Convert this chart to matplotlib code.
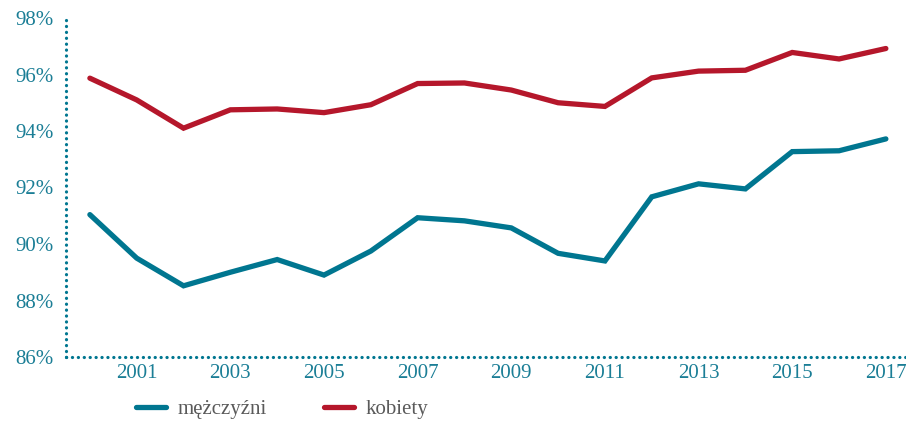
import matplotlib
matplotlib.use("Agg")
import matplotlib.pyplot as plt
from matplotlib.ticker import FuncFormatter

years = list(range(2000, 2018))
men = [91.04, 89.5, 88.52, 89.0, 89.45, 88.9, 89.75, 90.93, 90.82, 90.57, 89.67, 89.4,
       91.67, 92.13, 91.95, 93.27, 93.3, 93.72]
women = [95.87, 95.1, 94.1, 94.75, 94.78, 94.65, 94.93, 95.68, 95.7, 95.45, 95.0, 94.87,
         95.88, 96.12, 96.15, 96.78, 96.55, 96.92]
xticks = list(range(2001, 2018, 2))
yticks = [86, 88, 90, 92, 94, 96, 98]
labels = ["mężczyźni", "kobiety"]

BLUE = "#007690"
RED = "#B5172B"
TXT = "#1B7E96"
plt.rcParams["font.family"] = ["Liberation Serif", "DejaVu Serif"]

fig = plt.figure(figsize=(9.06, 4.21), dpi=100)
ax = fig.add_axes([66/906, 1-357/421, 1-66/906, (357-18)/421])

l1, = ax.plot(years, men, color=BLUE, lw=3.8, solid_capstyle="round", solid_joinstyle="miter")
l2, = ax.plot(years, women, color=RED, lw=3.8, solid_capstyle="round", solid_joinstyle="miter")

ax.set_xlim(1999.49, 2017.43)
ax.set_ylim(86, 98)
ax.set_xticks(xticks)
ax.set_yticks(yticks)
ax.yaxis.set_major_formatter(FuncFormatter(lambda v, p: f"{v:.0f}%"))
ax.tick_params(length=0, labelsize=15, labelcolor=TXT)
ax.tick_params(axis="y", pad=9)
ax.tick_params(axis="x", pad=5)
for s in ["top", "right"]:
    ax.spines[s].set_visible(False)
for s in ["left", "bottom"]:
    ax.spines[s].set_color(BLUE)
    ax.spines[s].set_linewidth(2.3)
    ax.spines[s].set_linestyle((0, (0.05, 1.8)))
    ax.spines[s].set_capstyle("round")

fig.legend([l1, l2], labels, loc="center left", bbox_to_anchor=(117/906, 1-409/421),
           ncol=2, frameon=False, handlelength=1.45, columnspacing=2.75, handletextpad=0.55,
           prop={"size": 15}, labelcolor="#5a5a5a")

fig.savefig("out.png", dpi=100)
